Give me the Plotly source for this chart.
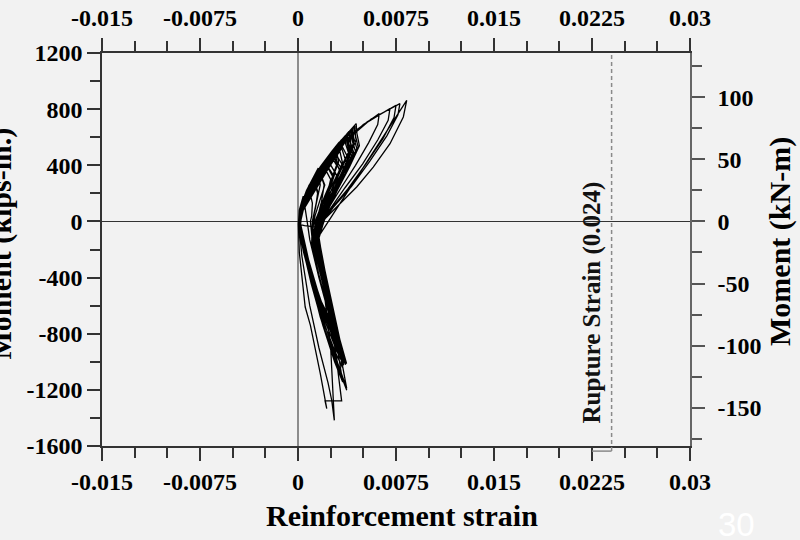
import plotly.graph_objects as go

# ---------------- data ----------------
# Reinforcement strain (in 1/1000) and moment (kip-in), traced loop by loop.
cycle_strain = [
    [0.05, 0.10, 0.40, 0.50, 0.60, 0.70, 0.90, 1.60, 2.30, 2.70, 2.20, 1.40, 0.80, 0.35, 0.10],
    [0.12, 0.60, 0.85, 0.90, 1.10, 1.05, 0.95, 1.10, 1.80, 2.50, 2.90, 2.40, 1.50, 0.85, 0.40, 0.12],
    [0.14, 0.75, 1.25, 1.30, 1.50, 1.35, 1.10, 1.20, 1.90, 2.60, 3.00, 2.50, 1.55, 0.90, 0.40, 0.10],
    [0.10, 0.70, 1.50, 1.70, 1.75, 2.00, 1.80, 1.50, 1.25, 1.30, 2.00, 2.70, 3.10, 2.60, 1.60, 0.95, 0.45, 0.12],
    [0.15, 0.80, 1.70, 2.05, 2.10, 2.50, 2.20, 1.75, 1.40, 1.35, 2.10, 2.80, 3.20, 2.70, 1.65, 1.00, 0.45, 0.12],
    [0.12, 0.75, 1.80, 2.40, 2.45, 2.95, 2.60, 2.05, 1.55, 1.40, 2.20, 2.90, 3.30, 2.80, 1.70, 1.00, 0.45, 0.12],
    [0.10, 0.70, 1.75, 2.75, 2.80, 3.20, 2.75, 2.10, 1.60, 1.40, 2.20, 2.95, 3.40, 2.90, 1.75, 1.05, 0.50, 0.12],
    [0.15, 0.80, 1.85, 2.90, 2.95, 3.50, 3.00, 2.30, 1.70, 1.45, 2.30, 3.00, 3.45, 2.95, 1.80, 1.05, 0.50, 0.12],
    [0.12, 0.75, 1.80, 2.90, 3.30, 3.35, 3.70, 3.20, 2.50, 1.80, 1.45, 2.35, 3.10, 3.55, 3.00, 1.85, 1.10, 0.50, 0.12],
    [0.10, 0.70, 1.75, 2.85, 3.60, 3.65, 4.00, 3.40, 2.60, 1.90, 1.50, 2.40, 3.15, 3.65, 3.10, 1.90, 1.10, 0.50, 0.12],
    [0.14, 0.80, 1.85, 2.95, 3.90, 3.95, 4.30, 3.60, 2.75, 2.00, 1.55, 2.45, 3.20, 3.72, 3.15, 1.95, 1.15, 0.55, 0.12],
    [0.12, 0.75, 1.80, 2.90, 4.20, 4.25, 4.50, 3.80, 2.90, 2.10, 1.55, 2.30, 2.95, 3.40, 2.85, 1.80, 1.05, 0.50, 0.12],
    [0.10, 0.70, 1.75, 2.85, 4.45, 4.50, 4.70, 3.95, 3.00, 2.20, 1.60, 2.20, 2.65, 3.00, 2.55, 1.70, 1.00, 0.45, 0.10],
    [0.13, 0.80, 1.80, 2.50, 2.95, 3.00, 3.10, 2.60, 2.00, 1.50, 1.35, 2.15, 2.85, 3.30, 2.80, 1.75, 1.00, 0.45, 0.12],
    [0.10, 0.65, 1.20, 1.55, 1.60, 1.70, 1.45, 1.20, 1.10, 1.20, 1.90, 2.60, 3.05, 2.55, 1.55, 0.90, 0.40, 0.10],
    [0.12, 0.80, 1.90, 3.10, 3.75, 3.80, 4.10, 3.40, 2.55, 1.85, 1.50, 2.35, 3.05, 3.55, 3.00, 1.85, 1.10, 0.50, 0.12],
    [0.15, 0.85, 1.95, 3.15, 4.05, 4.10, 4.40, 3.70, 2.80, 2.00, 1.50, 2.30, 3.00, 3.50, 2.95, 1.85, 1.10, 0.50, 0.12],
    [0.12, 0.70, 1.70, 2.60, 3.15, 3.20, 3.40, 2.85, 2.20, 1.65, 1.40, 2.25, 2.95, 3.45, 2.90, 1.80, 1.05, 0.48, 0.12],
    [0.10, 0.75, 1.60, 2.20, 2.25, 2.65, 2.35, 1.85, 1.45, 1.35, 2.10, 2.80, 3.25, 2.75, 1.70, 1.00, 0.45, 0.10],
    [0.12, 0.80, 1.85, 2.95, 3.80, 4.35, 4.40, 4.60, 3.90, 2.95, 2.15, 1.60, 2.40, 3.10, 3.60, 3.05, 1.90, 1.10, 0.50, 0.12],
    [0.20, 0.95, 2.05, 3.05, 3.70, 3.75, 3.90, 3.30, 2.45, 1.65, 1.30, 1.25, 2.00, 2.75, 3.35, 2.85, 2.20, 1.40, 0.70, 0.15],
    [0.25, 1.05, 2.15, 3.20, 3.95, 4.00, 4.05, 3.40, 2.55, 1.75, 1.35, 1.30, 2.05, 2.80, 3.45, 2.95, 2.30, 1.50, 0.75, 0.20],
    [0.30, 1.15, 2.25, 2.90, 2.95, 3.25, 2.75, 2.00, 1.45, 1.30, 1.95, 2.60, 3.20, 2.70, 2.10, 1.35, 0.65, 0.15],
    [0.20, 1.00, 1.90, 2.30, 2.35, 2.70, 2.20, 1.70, 1.35, 1.25, 1.85, 2.55, 3.05, 2.60, 2.00, 1.25, 0.60, 0.15],
    [0.35, 1.20, 2.30, 3.30, 4.10, 4.15, 4.25, 3.60, 2.70, 1.85, 1.40, 1.35, 2.15, 2.90, 3.55, 3.05, 2.35, 1.55, 0.80, 0.20],
    [0.18, 0.90, 1.40, 1.75, 1.80, 2.05, 1.70, 1.30, 1.15, 1.20, 1.80, 2.45, 2.95, 2.50, 1.90, 1.20, 0.55, 0.12],
    [0.28, 1.10, 2.20, 3.25, 4.30, 4.35, 4.45, 3.75, 2.85, 1.95, 1.45, 1.40, 2.20, 2.95, 3.65, 3.10, 2.40, 1.55, 0.80, 0.20],
    [0.22, 1.00, 1.60, 2.10, 2.65, 2.70, 2.95, 2.45, 1.85, 1.40, 1.30, 1.95, 2.70, 3.25, 2.75, 2.10, 1.35, 0.65, 0.15],
    [0.40, 1.30, 2.40, 3.40, 3.50, 3.85, 3.20, 2.30, 1.60, 1.40, 2.20, 2.90, 3.50, 2.95, 2.25, 1.45, 0.75, 0.18],
    [0.15, 0.80, 1.30, 1.35, 1.55, 1.30, 1.10, 1.05, 1.60, 2.30, 2.75, 2.35, 1.75, 1.10, 0.50, 0.10],
    [0.30, 1.15, 2.30, 3.35, 3.85, 3.90, 4.20, 3.55, 2.70, 1.90, 1.45, 1.40, 2.25, 3.00, 3.60, 3.05, 2.35, 1.50, 0.75, 0.18],
    [0.25, 1.05, 2.10, 2.45, 2.50, 2.85, 2.40, 1.90, 1.40, 1.30, 1.95, 2.65, 3.15, 2.65, 2.05, 1.30, 0.60, 0.12],
    [0.12, 0.80, 1.90, 3.10, 4.60, 6.22, 6.10, 5.40, 4.40, 3.30, 2.30, 1.60, 1.55, 2.40, 3.10, 3.73, 3.00, 2.00, 1.10, 0.45, 0.10],
    [0.12, 0.85, 2.00, 3.30, 5.00, 7.04, 6.90, 6.10, 4.95, 3.60, 2.40, 1.55, 1.55, 2.40, 3.00, 3.42, 2.80, 1.90, 1.00, 0.40, 0.08],
    [0.12, 0.85, 2.05, 3.40, 5.30, 7.50, 7.35, 6.50, 5.20, 3.80, 2.50, 1.60, 1.50, 2.30, 2.90, 3.34, 2.07, 2.20, 1.70, 0.95, 0.55, 0.10, 0.03],
    [0.10, 0.90, 2.10, 3.50, 5.60, 7.80, 7.65, 6.80, 5.50, 4.10, 2.70, 1.70, 1.45, 2.30, 3.00, 3.73, 3.10, 2.10, 1.10, 0.40, 0.05],
    [0.50, 1.43, 2.20, 3.21, 4.49, 5.76, 7.04, 8.06, 8.32, 1.30, 2.00, 2.50, 2.78, 2.58, 2.30, 1.60, 0.90, 0.30, 0.05],
]
cycle_moment = [
    [0, 80, 180, 130, 60, 0, -130, -400, -640, -730, -650, -500, -330, -160, -20],
    [80, 200, 260, 210, 130, 40, 0, -140, -420, -680, -780, -700, -530, -340, -170, -20],
    [80, 221, 320, 270, 200, 100, 0, -140, -420, -700, -820, -730, -550, -350, -170, -20],
    [80, 221, 350, 388, 330, 260, 140, 40, -60, -150, -430, -720, -850, -760, -570, -360, -180, -20],
    [80, 221, 370, 430, 370, 300, 180, 60, -40, -150, -450, -740, -880, -790, -590, -370, -180, -20],
    [80, 221, 388, 470, 410, 330, 200, 80, -20, -150, -470, -760, -910, -820, -600, -380, -185, -20],
    [80, 221, 388, 510, 450, 360, 221, 90, 0, -150, -460, -780, -940, -850, -620, -390, -190, -20],
    [80, 221, 388, 530, 470, 388, 240, 100, 10, -150, -490, -790, -960, -870, -630, -400, -190, -20],
    [80, 221, 388, 530, 580, 520, 420, 290, 150, 20, -150, -500, -820, -980, -880, -640, -400, -190, -20],
    [80, 221, 388, 530, 610, 550, 450, 320, 170, 30, -140, -510, -830, -1000, -900, -650, -410, -195, -20],
    [80, 221, 388, 530, 640, 580, 480, 340, 190, 40, -130, -520, -840, -1013, -910, -660, -410, -200, -20],
    [80, 221, 388, 530, 661, 600, 520, 370, 210, 50, -120, -480, -800, -1040, -930, -680, -420, -200, -20],
    [80, 221, 388, 530, 697, 630, 540, 390, 220, 60, -110, -460, -760, -1037, -920, -680, -420, -200, -20],
    [80, 221, 388, 470, 540, 480, 420, 300, 170, 40, -140, -450, -750, -930, -840, -610, -380, -180, -20],
    [80, 221, 320, 380, 330, 260, 150, 40, -60, -150, -430, -720, -860, -770, -570, -360, -170, -20],
    [80, 221, 388, 550, 620, 560, 470, 330, 180, 40, -140, -510, -820, -1000, -890, -640, -400, -190, -20],
    [80, 221, 388, 550, 650, 590, 500, 350, 200, 40, -130, -490, -810, -1025, -920, -660, -410, -195, -20],
    [80, 221, 388, 500, 565, 500, 420, 290, 150, 20, -150, -480, -790, -970, -870, -630, -395, -190, -20],
    [80, 221, 360, 445, 390, 320, 200, 70, -30, -150, -450, -740, -890, -800, -590, -370, -180, -20],
    [80, 221, 388, 530, 630, 680, 610, 530, 380, 215, 55, -120, -520, -830, -1010, -900, -650, -405, -195, -20],
    [80, 221, 388, 530, 610, 560, 500, 388, 221, 80, 0, -150, -400, -700, -950, -880, -700, -480, -250, -20],
    [80, 221, 388, 530, 640, 590, 530, 388, 221, 80, 0, -150, -400, -700, -980, -900, -720, -500, -260, -20],
    [80, 221, 388, 470, 430, 388, 260, 110, 10, -150, -380, -650, -900, -830, -660, -450, -230, -20],
    [80, 221, 350, 420, 380, 330, 200, 80, 0, -150, -380, -660, -870, -800, -640, -430, -220, -20],
    [80, 221, 388, 530, 655, 610, 560, 400, 221, 80, 0, -150, -420, -720, -1000, -920, -740, -510, -270, -20],
    [80, 221, 310, 360, 320, 260, 150, 40, -40, -150, -390, -650, -840, -770, -610, -410, -210, -20],
    [80, 221, 388, 530, 675, 630, 580, 420, 240, 90, 0, -150, -430, -740, -1020, -930, -750, -520, -270, -20],
    [80, 221, 320, 400, 480, 440, 400, 270, 130, 20, -150, -400, -690, -930, -850, -680, -460, -230, -20],
    [80, 221, 388, 530, 510, 450, 300, 130, 20, -150, -440, -730, -980, -900, -720, -490, -260, -20],
    [80, 221, 290, 260, 200, 90, 0, -150, -380, -640, -800, -740, -590, -400, -200, -20],
    [80, 221, 388, 530, 600, 550, 480, 350, 200, 60, 0, -150, -460, -780, -1005, -910, -730, -500, -260, -20],
    [80, 221, 388, 440, 400, 350, 221, 90, 0, -150, -400, -680, -900, -820, -660, -440, -220, -20],
    [80, 221, 388, 530, 660, 768, 690, 560, 400, 240, 90, -40, -180, -520, -880, -1191, -1000, -720, -420, -200, -20],
    [80, 221, 388, 540, 690, 805, 720, 580, 410, 240, 80, -50, -180, -540, -900, -1144, -1000, -740, -440, -200, -20],
    [80, 221, 388, 550, 710, 827, 740, 590, 410, 230, 85, -40, -190, -560, -950, -1279, -1279, -1333, -1080, -740, -610, -220, -20],
    [80, 221, 388, 560, 730, 839, 760, 610, 430, 250, 100, -30, -170, -580, -1000, -1203, -1050, -780, -460, -210, -20],
    [-30, -40, 31, 127, 245, 387, 554, 744, 862, -147, -500, -900, -1417, -1274, -1150, -900, -600, -250, 0],
]

x_tickvals = [-0.015, -0.0075, 0, 0.0075, 0.015, 0.0225, 0.03]
x_ticktext = ["-0.015", "-0.0075", "0", "0.0075", "0.015", "0.0225", "0.03"]
y_tickvals = [-1600, -1200, -800, -400, 0, 400, 800, 1200]
y_ticktext = ["-1600", "-1200", "-800", "-400", "0", "400", "800", "1200"]
y2_tickvals = [-150, -100, -50, 0, 50, 100]
y2_ticktext = ["-150", "-100", "-50", "0", "50", "100"]
kipin_to_kNm = 0.113
rupture_strain = 0.024

x_range = [-0.015, 0.03]
y_range = [-1600, 1200]

# ---------------- figure ----------------
strain, moment = [], []
for cs, cm in zip(cycle_strain, cycle_moment):
    assert len(cs) == len(cm), (len(cs), len(cm))
    strain.extend(s / 1000.0 for s in cs)
    moment.extend(cm)

fig = go.Figure()
fig.add_trace(go.Scatter(x=strain, y=moment, mode="lines",
                         line=dict(color="black", width=1.3),
                         showlegend=False, hoverinfo="skip"))
fig.add_trace(go.Scatter(x=[0], y=[0], xaxis="x2", yaxis="y2", mode="markers",
                         marker=dict(opacity=0), showlegend=False, hoverinfo="skip"))

FONT = "Liberation Serif"
tickfont = dict(family=FONT, size=24, color="black", weight="bold")
AX = "#333333"

common_x = dict(range=x_range, tickmode="array", tickvals=x_tickvals, ticktext=x_ticktext,
                ticks="outside", ticklen=13, tickwidth=1.5, tickcolor=AX,
                showline=True, linecolor=AX, linewidth=1.5, showgrid=False,
                tickfont=tickfont, automargin=False,
                minor=dict(dtick=0.0025, tick0=0, ticks="outside", ticklen=10,
                           tickwidth=1.5, tickcolor=AX, showgrid=False))

fig.update_layout(
    width=800, height=540,
    margin=dict(l=102, r=110, t=53, b=94),
    paper_bgcolor="#f2f2f2", plot_bgcolor="#f2f2f2",
    xaxis=dict(**common_x, zeroline=True, zerolinecolor="#8c8c8c", zerolinewidth=2),
    xaxis2=dict(**common_x, overlaying="x", side="top", anchor="y", zeroline=False,
                ticklabelstandoff=3),
    yaxis=dict(range=y_range, tickmode="array", tickvals=y_tickvals, ticktext=y_ticktext,
               ticks="outside", ticklen=13, tickwidth=1.5, tickcolor=AX,
               showline=True, linecolor=AX, linewidth=1.5, showgrid=False,
               zeroline=True, zerolinecolor="#333333", zerolinewidth=1,
               tickfont=tickfont, automargin=False,
               minor=dict(dtick=200, tick0=0, ticks="outside", ticklen=10,
                          tickwidth=1.5, tickcolor=AX, showgrid=False)),
    yaxis2=dict(range=[y_range[0] * kipin_to_kNm, y_range[1] * kipin_to_kNm],
                overlaying="y", side="right", anchor="x", automargin=False,
                tickmode="array", tickvals=y2_tickvals, ticktext=y2_ticktext,
                ticks="outside", ticklen=13, tickwidth=1.5, tickcolor="#555555",
                showline=True, linecolor="#666666", linewidth=1.5, showgrid=False,
                zeroline=False, tickfont=tickfont, ticklabelstandoff=8,
                minor=dict(dtick=25, tick0=0, ticks="outside", ticklen=10,
                           tickwidth=1.5, tickcolor="#555555", showgrid=False)),
)

# rupture strain marker
fig.add_shape(type="line", xref="x", yref="paper", x0=rupture_strain, x1=rupture_strain,
              y0=-0.013, y1=1, line=dict(color="#8a8a8a", width=1.5, dash="4px,3px"))
fig.add_shape(type="line", xref="x", yref="paper", x0=0.0225, x1=rupture_strain,
              y0=-0.013, y1=-0.013, line=dict(color="#8a8a8a", width=1.5))

titlefont = dict(family=FONT, size=30, color="black", weight="bold")
fig.add_annotation(text="Rupture Strain (0.024)", x=0.02252, y=-576, xref="x", yref="y",
                   textangle=-90, showarrow=False, xanchor="center", yanchor="middle",
                   font=dict(family=FONT, size=25, color="#111111", weight="bold"))
fig.add_annotation(text="Reinforcement strain", xref="paper", yref="paper",
                   x=0.510, y=-0.178, showarrow=False, xanchor="center", yanchor="middle",
                   font=titlefont)
fig.add_annotation(text="Moment (kN-m)", xref="paper", yref="paper",
                   x=1.153, y=0.5216, textangle=-90, showarrow=False,
                   xanchor="center", yanchor="middle", font=titlefont)
fig.add_annotation(text="Moment (kips-in.)", xref="paper", yref="paper",
                   x=-0.171, y=0.5165, textangle=-90, showarrow=False,
                   xanchor="center", yanchor="middle", font=titlefont)
fig.add_annotation(text="30", xref="paper", yref="paper", x=1.079, y=-0.201,
                   showarrow=False, xanchor="center", yanchor="middle",
                   font=dict(family="Liberation Sans", size=33, color="white"))

fig.write_html("out.html", config={"displayModeBar": False},
               post_script="document.body.style.margin='0';"
                           "document.body.style.background='#f2f2f2';"
                           "document.body.style.overflow='hidden';")
